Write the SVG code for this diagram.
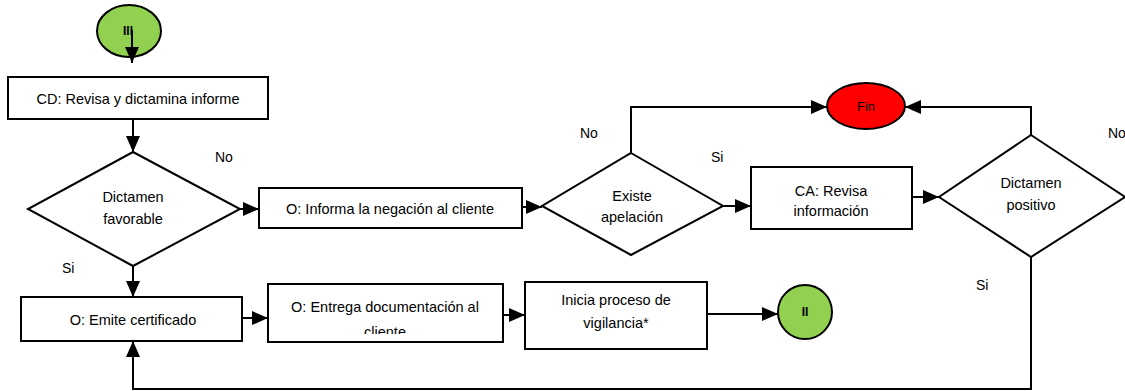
<svg xmlns="http://www.w3.org/2000/svg" width="1125" height="391" viewBox="0 0 1125 391">
<style>
.box{fill:#fff;stroke:#000;stroke-width:2}
.dia{fill:#fff;stroke:#000;stroke-width:2}
.ln{fill:none;stroke:#000;stroke-width:2}
.t{font-family:"Liberation Sans",Arial,sans-serif;font-size:14.5px;fill:#000;text-anchor:middle}
.lbl{font-family:"Liberation Sans",Arial,sans-serif;font-size:14px;fill:#000}
.b{font-weight:bold;font-size:12px}
</style>
<defs>
<marker id="ah" markerUnits="userSpaceOnUse" markerWidth="16" markerHeight="16" viewBox="0 0 16 16" refX="16" refY="8" orient="auto">
<path d="M0,1 L16,8 L0,15 Z" fill="#000"/>
</marker>
<clipPath id="clipE"><rect x="268" y="284" width="235" height="50"/></clipPath>
</defs>
<g id="start">
<ellipse cx="129" cy="31" rx="32" ry="26" fill="#92D050" stroke="#000" stroke-width="2"/>
<text class="t b" x="128" y="35">III</text>
</g>
<g id="n1">
<rect class="box" x="8" y="77" width="260" height="42"/>
<text class="t" x="138" y="104">CD: Revisa y dictamina informe</text>
</g>
<g id="d1">
<polygon class="dia" points="133,152 240,209 133,266 28,209"/>
<text class="t" x="133" y="202">Dictamen</text>
<text class="t" x="133" y="224">favorable</text>
</g>
<g id="n2">
<rect class="box" x="259" y="188" width="263" height="40"/>
<text class="t" x="390" y="214">O: Informa la negación al cliente</text>
</g>
<g id="d2">
<polygon class="dia" points="631,153 723,206 631,255 542,206"/>
<text class="t" x="632" y="201">Existe</text>
<text class="t" x="632" y="222">apelación</text>
</g>
<g id="fin">
<ellipse cx="866" cy="106" rx="39" ry="23" fill="#FF0000" stroke="#000" stroke-width="2"/>
<text class="t" x="866" y="111" style="font-size:13px">Fin</text>
</g>
<g id="n3">
<rect class="box" x="751" y="167" width="161" height="62"/>
<text class="t" x="831" y="196">CA: Revisa</text>
<text class="t" x="831" y="216">información</text>
</g>
<g id="d3">
<polygon class="dia" points="1031,135 1125,197 1031,257 939,197"/>
<text class="t" x="1031" y="188">Dictamen</text>
<text class="t" x="1031" y="210">positivo</text>
</g>
<g id="n4">
<rect class="box" x="21" y="297" width="221" height="44"/>
<text class="t" x="133" y="325">O: Emite certificado</text>
</g>
<g id="n5">
<rect class="box" x="268" y="284" width="235" height="58"/>
<g clip-path="url(#clipE)">
<text class="t" x="385" y="312">O: Entrega documentación al</text>
<text class="t" x="385" y="337">cliente</text>
</g>
</g>
<g id="n6">
<rect class="box" x="525" y="282" width="182" height="67"/>
<text class="t" x="616" y="305">Inicia proceso de</text>
<text class="t" x="616" y="328">vigilancia*</text>
</g>
<g id="end">
<circle cx="805" cy="312" r="27" fill="#92D050" stroke="#000" stroke-width="2"/>
<text class="t b" x="805" y="316">II</text>
</g>
<g id="connectors">
<line class="ln" x1="132" y1="30" x2="132" y2="63" marker-end="url(#ah)"/>
<line class="ln" x1="133" y1="119" x2="133" y2="152" marker-end="url(#ah)"/>
<line class="ln" x1="240" y1="209" x2="259" y2="209" marker-end="url(#ah)"/>
<line class="ln" x1="522" y1="207" x2="542" y2="207" marker-end="url(#ah)"/>
<polyline class="ln" points="631,153 631,107 827,107" marker-end="url(#ah)"/>
<line class="ln" x1="723" y1="206" x2="751" y2="206" marker-end="url(#ah)"/>
<line class="ln" x1="912" y1="197" x2="939" y2="197" marker-end="url(#ah)"/>
<polyline class="ln" points="1031,135 1031,107 905,107" marker-end="url(#ah)"/>
<line class="ln" x1="133" y1="266" x2="133" y2="297" marker-end="url(#ah)"/>
<polyline class="ln" points="1031,257 1031,389 133,389 133,341" marker-end="url(#ah)"/>
<line class="ln" x1="242" y1="318" x2="268" y2="318" marker-end="url(#ah)"/>
<line class="ln" x1="503" y1="315" x2="525" y2="315" marker-end="url(#ah)"/>
<line class="ln" x1="707" y1="314" x2="778" y2="314" marker-end="url(#ah)"/>
<text class="lbl" x="215" y="162">No</text>
<text class="lbl" x="62" y="273">Si</text>
<text class="lbl" x="580" y="138">No</text>
<text class="lbl" x="711" y="162">Si</text>
<text class="lbl" x="1108" y="138">No</text>
<text class="lbl" x="976" y="290">Si</text>
</g>
</svg>
